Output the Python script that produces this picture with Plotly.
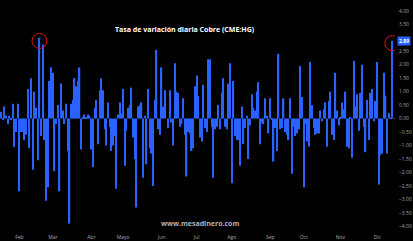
import plotly.graph_objects as go

# Daily % change of copper (CME:HG), one value per trading session
values = [
    0.25, -0.05, 0.45, 0.1, -0.2, 0.1, -0.05, 0.55, -1.05, -0.5,
    0.55, -2.7, -0.5, -0.5, -0.8, -0.6, 1.1, -1.1, 1.5, -1.9,
    1.0, 0.4, -1.55, 3.0, -0.65, 2.75, -0.8, -3.05, -2.55, 1.4,
    1.9, 1.7, -1.95, -0.2, 0.5, -2.7, 1.3, 0.3, -0.2, 0.55,
    -1.2, -3.9, 0.55, 0.7, 1.5, 1.2, 1.4, 1.9, -1.15, 0.05,
    0.15, 0.05, 0.15, 0.1, -1.15, -1.8, 0.4, 0.7, -0.95, 1.05,
    1.5, 1.05, -0.4, -1.0, 0.6, -0.3, -1.2, -1.0, -0.65, -2.6,
    0.15, 0.6, 0.2, 1.1, -1.75, -0.45, 0.4, 0.5, 1.15, -0.7,
    -1.5, -3.3, 0.45, 0.5, 0.6, -2.2, 0.1, -1.7, 1.1, -1.1,
    -1.3, -2.5, 0.7, 2.55, -0.4, -0.6, 1.9, 0.45, 1.05, 0.0,
    -0.35, 1.05, -0.15, -1.0, 2.05, 1.0, 0.95, -0.3, -0.2, 0.75,
    -0.6, -2.15, -0.5, -0.55, -1.2, -1.1, 1.2, 1.6, 0.85, -0.7,
    -0.85, 1.25, -0.35, -0.5, 2.2, 2.2, -0.3, -2.2, -0.4, -0.3,
    0.5, -0.4, 0.95, 1.5, -0.3, -0.4, 1.3, 2.05, -2.4, 1.4,
    -0.65, -0.8, -0.8, -1.75, 0.45, -0.95, -0.35, 0.1, -1.5, -0.25,
    0.9, 0.4, 0.3, 1.0, 1.35, -0.95, -0.15, -0.2, 0.75, 0.1,
    -0.55, 0.75, -0.05, -1.6, -0.35, -1.2, 2.4, -0.4, -0.35, 0.75,
    -0.5, -0.6, -0.8, 0.75, -2.05, -0.3, -0.65, -0.55, -0.4, 1.95,
    0.8, -2.55, -0.2, -0.85, -1.05, 2.1, 0.5, -0.35, -0.6, -0.55,
    -0.55, 0.3, -0.1, 0.35, 0.6, -1.05, 0.65, 1.0, -0.6, -0.8,
    1.7, 0.3, -0.25, 0.05, 0.6, 0.35, 1.0, -1.05, -1.1, 0.05,
    -1.45, 2.15, 0.45, 0.9, -0.45, 0.95, 2.0, -0.3, -1.25, 0.7,
    -0.8, 0.95, 1.1, -0.1, 0.65, 2.1, -2.45, -1.35, -1.3, 1.7,
    0.85, -1.3, 0.2, 0.02, 2.89,
]

month_labels = ["Feb", "Mar", "Abr", "Mayo", "Jun", "Jul", "Ago", "Sep", "Oct", "Nov", "Dic"]
month_start_idx = [11, 31, 54, 73, 96, 117, 138, 161, 181, 203, 225]

# 3.00 is hidden behind the last-value tag in the original
y_ticks = [v / 2 for v in range(-8, 9) if v != 6]

title_text = "Tasa de variación diaria Cobre (CME:HG)"
watermark = "www.mesadinero.com"

circled_idx = [23, len(values) - 1]

BLUE = "#2962ff"
n = len(values)
x = list(range(n))

fig = go.Figure()
fig.add_trace(go.Bar(x=x, y=values, marker=dict(color=BLUE, line=dict(width=0)),
                     hoverinfo="skip"))

fig.update_layout(
    width=413, height=241,
    margin=dict(l=0, r=18, t=0, b=9),
    paper_bgcolor="black", plot_bgcolor="black",
    bargap=0.22,
    showlegend=False,
    font=dict(family="Open Sans, Arial", color="#b0b0b0"),
    xaxis=dict(
        range=[-0.6, n + 0.6],
        tickmode="array", tickvals=month_start_idx, ticktext=month_labels,
        tickfont=dict(size=5, color="#a8a8a8"),
        showgrid=False, zeroline=False, showline=False, ticks="",
        ticklabelstandoff=1,
    ),
    yaxis=dict(
        side="right", range=[-4.21, 4.40],
        tickmode="array", tickvals=y_ticks,
        tickformat=".2f",
        tickfont=dict(size=5, color="#a8a8a8"),
        showgrid=False, zeroline=False, showline=False, ticks="",
        ticklabelstandoff=3,
    ),
)

# Title
fig.add_annotation(text="<b>" + title_text + "</b>", xref="paper", yref="paper",
                   x=184.5 / 395, y=1 - 23.5 / 232, showarrow=False,
                   font=dict(size=7, color="white", family="Open Sans, Arial"))
# Watermark
fig.add_annotation(text="<b>" + watermark + "</b>", xref="paper", yref="paper",
                   x=199.5 / 395, y=1 - 229.5 / 232, showarrow=False,
                   font=dict(size=7, color="#b4b4b4", family="Open Sans, Arial"))

# Last value tag on the price axis
last = values[-1]
fig.add_annotation(text="<b>%.2f</b>" % last, xref="paper", yref="y",
                   x=1.0, xanchor="left", xshift=2, y=last, showarrow=False,
                   font=dict(size=5, color="white"), bgcolor=BLUE,
                   borderpad=1)

# Dotted zero level to the axis after the last bar
fig.add_shape(type="line", xref="x", yref="y", x0=n - 0.3, x1=n + 0.6, y0=0, y1=0,
              line=dict(color="#555", width=1, dash="dot"))

# Red circles around highlighted bars
offsets = [-3.2, -2.5]
for idx, dy in zip(circled_idx, offsets):
    r = 7.5
    fig.add_shape(type="circle", xref="x", yref="y",
                  xsizemode="pixel", ysizemode="pixel",
                  xanchor=idx, yanchor=values[idx],
                  x0=-r, x1=r, y0=dy - r, y1=dy + r,
                  line=dict(color="#e01010", width=1))

fig.write_html("out.html")
